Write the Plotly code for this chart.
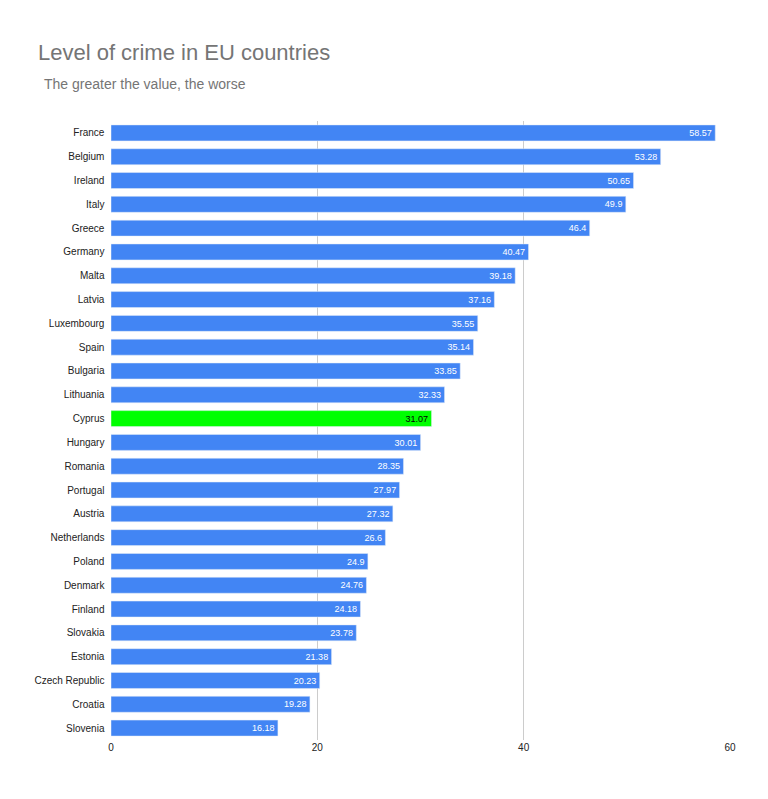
import plotly.graph_objects as go

countries = ['France', 'Belgium', 'Ireland', 'Italy', 'Greece', 'Germany', 'Malta', 'Latvia',
             'Luxembourg', 'Spain', 'Bulgaria', 'Lithuania', 'Cyprus', 'Hungary', 'Romania',
             'Portugal', 'Austria', 'Netherlands', 'Poland', 'Denmark', 'Finland', 'Slovakia',
             'Estonia', 'Czech Republic', 'Croatia', 'Slovenia']
crime_index = [58.57, 53.28, 50.65, 49.9, 46.4, 40.47, 39.18, 37.16, 35.55, 35.14, 33.85, 32.33,
               31.07, 30.01, 28.35, 27.97, 27.32, 26.6, 24.9, 24.76, 24.18, 23.78, 21.38, 20.23,
               19.28, 16.18]
x_ticks = [0, 20, 40, 60]

colors = ['#00ff00' if c == 'Cyprus' else '#4285f4' for c in countries]
text_colors = ['#000000' if c == 'Cyprus' else '#ffffff' for c in countries]

fig = go.Figure(go.Bar(
    x=crime_index, y=countries, orientation='h',
    marker_color=colors,
    text=[str(v) for v in crime_index], textposition='inside', insidetextanchor='end',
    textfont=dict(color=text_colors, size=10, family='Arial'),
))
fig.update_layout(
    width=768, height=799,
    paper_bgcolor='white', plot_bgcolor='white',
    margin=dict(l=103, r=46, t=113, b=67),
    bargap=0.33,
    font=dict(family='Arial', size=10, color='#222222'),
    title=dict(text='Level of crime in EU countries', x=0.039, y=0.945, xanchor='left',
               yanchor='middle', font=dict(size=22, color='#757575', family='Arial')),
    showlegend=False,
)
fig.add_annotation(text='The greater the value, the worse', xref='paper', yref='paper',
                   x=-0.112, y=1.059, xanchor='left', yanchor='middle', showarrow=False,
                   font=dict(size=14, color='#757575', family='Arial'))
fig.update_xaxes(range=[0, 60], tickvals=x_ticks, showgrid=True, gridcolor='#cccccc',
                 zeroline=False, showline=False, ticks='', ticklen=0)
fig.update_yaxes(autorange='reversed', ticks='', showgrid=False, ticksuffix='  ')
fig.write_html('out.html')
